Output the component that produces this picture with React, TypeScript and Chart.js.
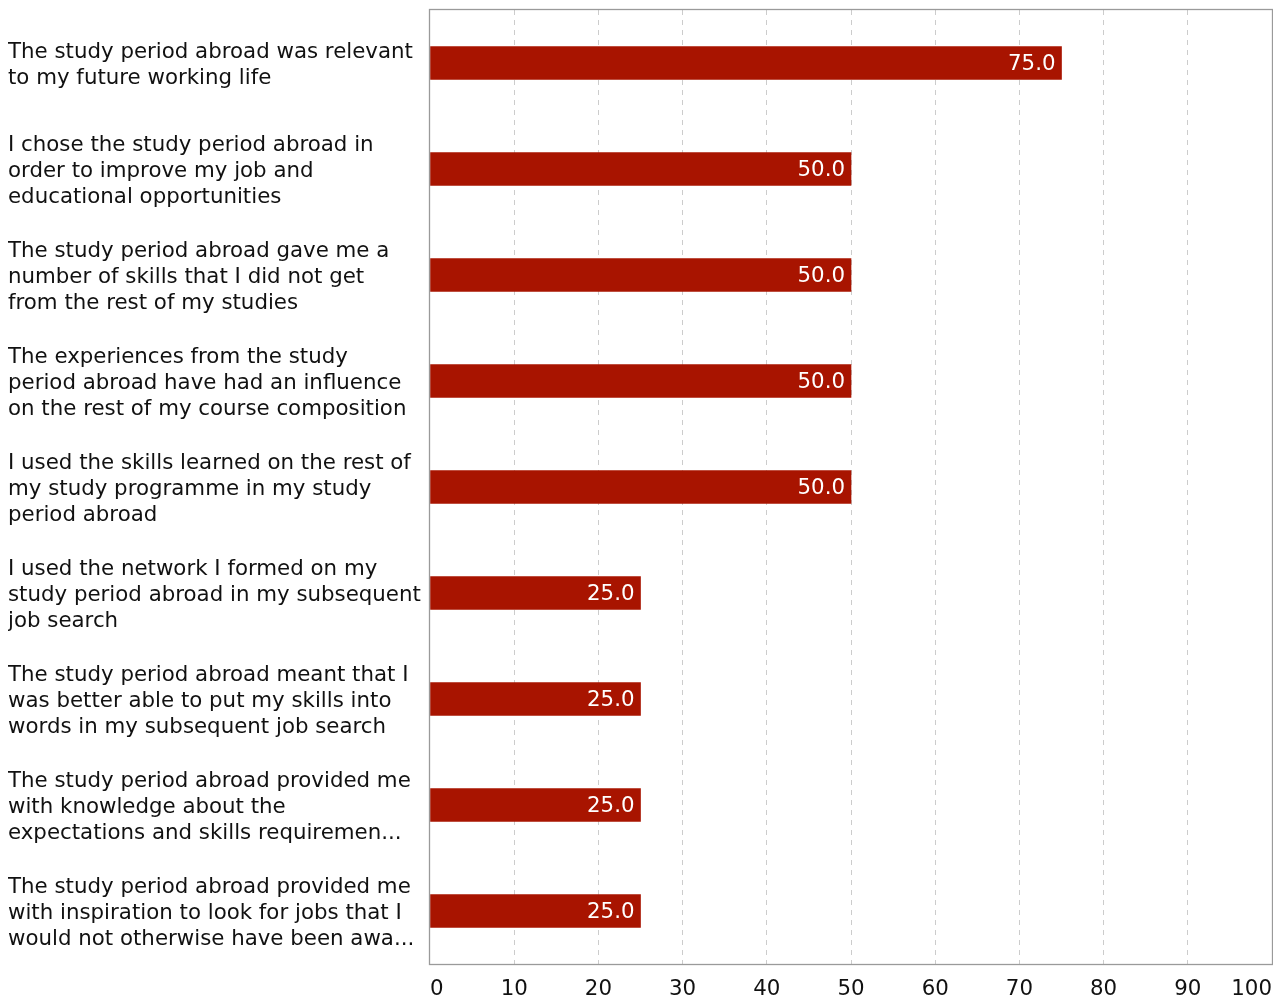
import React, { useEffect, useRef } from "react";
import { Chart, registerables } from "chart.js";

Chart.register(...registerables);

const categories: string[][] = [
  ["The study period abroad was relevant", "to my future working life"],
  ["I chose the study period abroad in", "order to improve my job and", "educational opportunities"],
  ["The study period abroad gave me a", "number of skills that I did not get", "from the rest of my studies"],
  ["The experiences from the study", "period abroad have had an influence", "on the rest of my course composition"],
  ["I used the skills learned on the rest of", "my study programme in my study", "period abroad"],
  ["I used the network I formed on my", "study period abroad in my subsequent", "job search"],
  ["The study period abroad meant that I", "was better able to put my skills into", "words in my subsequent job search"],
  ["The study period abroad provided me", "with knowledge about the", "expectations and skills requiremen..."],
  ["The study period abroad provided me", "with inspiration to look for jobs that I", "would not otherwise have been awa..."],
];

const values: number[] = [75.0, 50.0, 50.0, 50.0, 50.0, 25.0, 25.0, 25.0, 25.0];

const FONT = "'DejaVu Sans', Verdana, sans-serif";
const FS = 21.33;

const valueLabels = {
  id: "valueLabels",
  afterDatasetsDraw(chart: any) {
    const ctx = chart.ctx;
    const meta = chart.getDatasetMeta(0);
    ctx.save();
    ctx.font = `${FS}px ${FONT}`;
    ctx.fillStyle = "#ffffff";
    ctx.textAlign = "right";
    ctx.textBaseline = "middle";
    meta.data.forEach((bar: any, i: number) => {
      ctx.fillText(values[i].toFixed(1), bar.x - 6, bar.y + 1);
    });
    ctx.restore();
  },
};

const frame = {
  id: "frame",
  afterDraw(chart: any) {
    const { ctx, chartArea } = chart;
    const l = Math.round(chartArea.left);
    const t = Math.round(chartArea.top);
    const r = Math.round(chartArea.right);
    const b = Math.round(chartArea.bottom);
    ctx.save();
    ctx.strokeStyle = "#9a9a9a";
    ctx.lineWidth = 1.3;
    ctx.strokeRect(l - 0.5, t - 0.5, r - l + 1, b - t + 1);
    ctx.restore();
  },
};

export default function App() {
  const canvasRef = useRef<HTMLCanvasElement | null>(null);

  useEffect(() => {
    if (!canvasRef.current) return;
    const chart = new Chart(canvasRef.current, {
      type: "bar",
      data: {
        labels: categories,
        datasets: [
          {
            data: values,
            backgroundColor: "#A81400",
            borderWidth: 0,
            barThickness: 33,
          },
        ],
      },
      plugins: [valueLabels, frame],
      options: {
        indexAxis: "y",
        animation: false,
        responsive: true,
        maintainAspectRatio: false,
        layout: { padding: { left: 8, top: 10, right: 1, bottom: 0 } },
        plugins: {
          legend: { display: false },
          tooltip: { enabled: false },
          title: { display: false },
        },
        scales: {
          x: {
            min: 0,
            max: 100,
            afterFit(scale: any) {
              scale.height = 34;
              scale.paddingLeft = 0;
              scale.paddingRight = 0;
            },
            ticks: {
              stepSize: 10,
              align: "inner",
              padding: 13,
              color: "#111111",
              font: { family: FONT, size: FS },
            },
            grid: {
              color: (c: any) => (c.tick && (c.tick.value === 0 || c.tick.value === 100) ? "rgba(0,0,0,0)" : "#cccccc"),
              lineWidth: 1,
              drawTicks: false,
            },
            border: { display: false, dash: [5, 5] },
          },
          y: {
            afterFit(scale: any) {
              scale.width = 422;
              scale.paddingTop = 0;
              scale.paddingBottom = 0;
            },
            ticks: {
              crossAlign: "far",
              padding: 0,
              labelOffset: 2,
              color: "#111111",
              font: { family: FONT, size: FS, lineHeight: 1.22 },
              autoSkip: false,
            },
            grid: { display: false, drawTicks: false },
            border: { display: false },
          },
        },
      },
    });
    return () => chart.destroy();
  }, []);

  return (
    <div style={{ position: "absolute", left: 0, top: 0, width: 1273, height: 998 }}>
      <canvas ref={canvasRef} />
    </div>
  );
}
